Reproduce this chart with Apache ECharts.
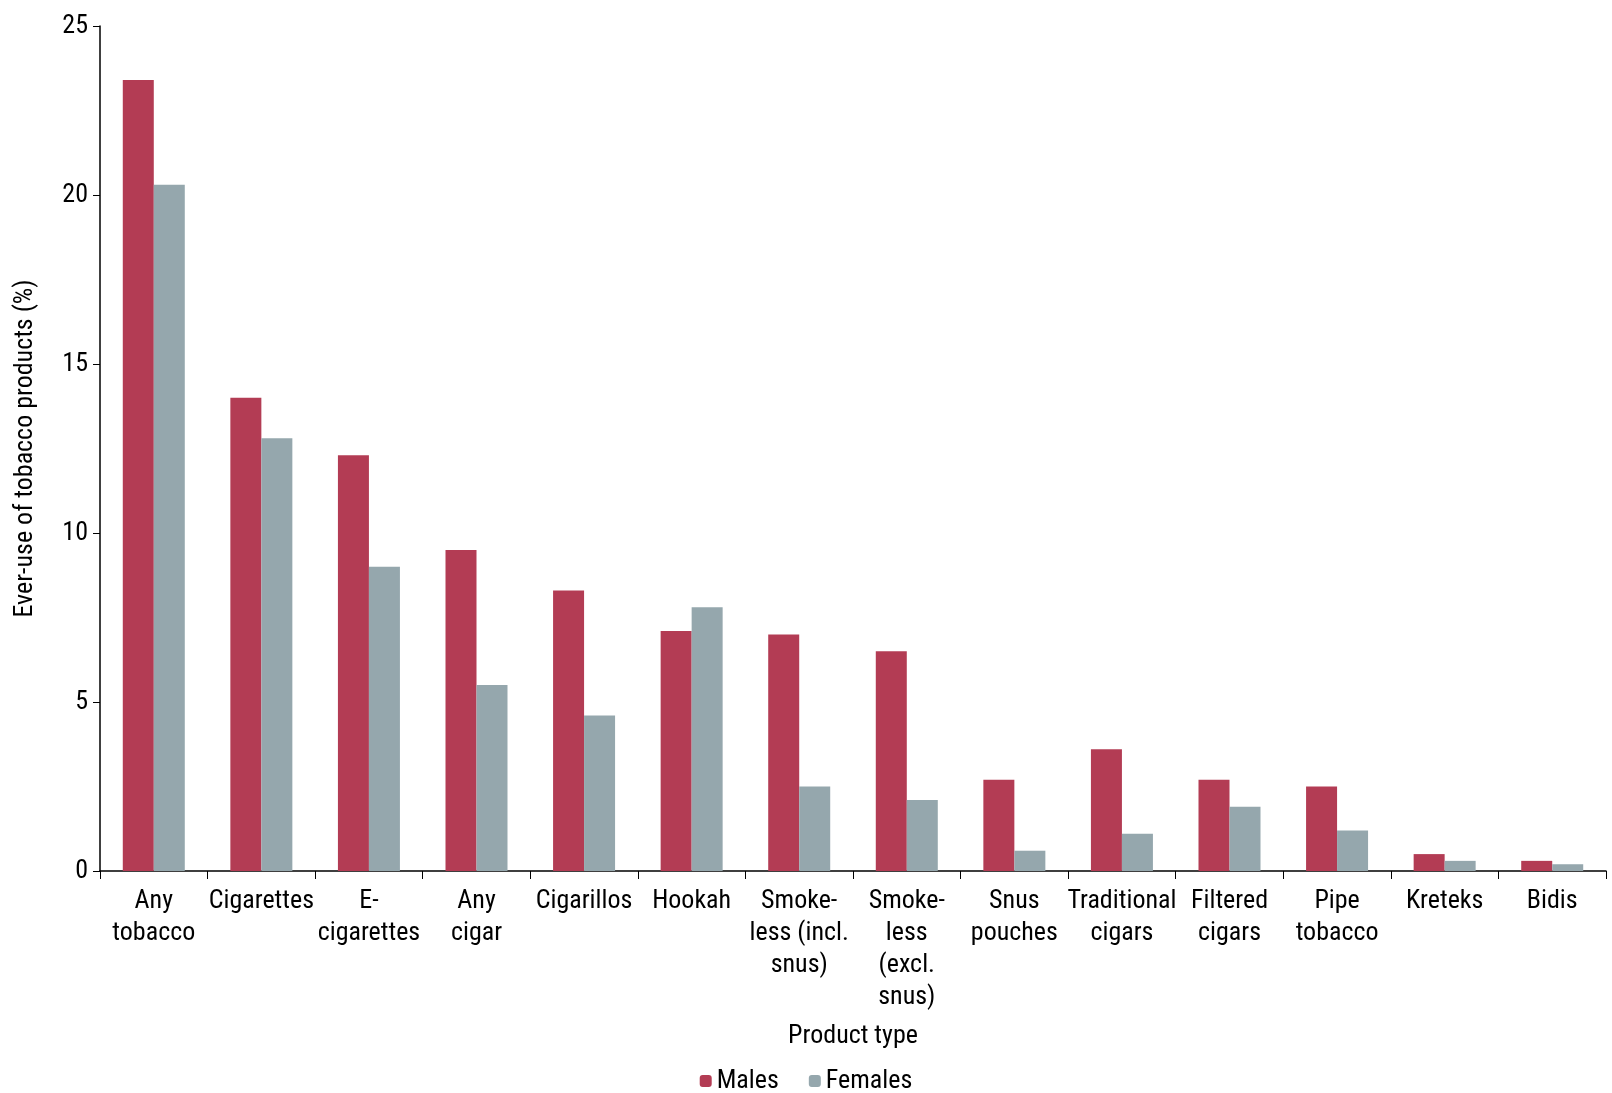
<!DOCTYPE html>
<html><head><meta charset="utf-8">
<script src="https://cdn.jsdelivr.net/npm/echarts@6/dist/echarts.min.js"></script>
<style>html,body{margin:0;padding:0;background:#fff}#c{width:1612px;height:1093px}</style>
</head><body><div id="c"></div>
<script>
const categories = ["Any\ntobacco","Cigarettes","E-\ncigarettes","Any\ncigar","Cigarillos","Hookah","Smoke-\nless (incl.\nsnus)","Smoke-\nless\n(excl.\nsnus)","Snus\npouches","Traditional\ncigars","Filtered\ncigars","Pipe\ntobacco","Kreteks","Bidis"];
const males = [23.4,14.0,12.3,9.5,8.3,7.1,7.0,6.5,2.7,3.6,2.7,2.5,0.5,0.3];
const females = [20.3,12.8,9.0,5.5,4.6,7.8,2.5,2.1,0.6,1.1,1.9,1.2,0.3,0.2];
const yTicks = [0,5,10,15,20,25];
const F = '"Liberation Sans Narrow","Roboto Condensed",Roboto,sans-serif';
const chart = echarts.init(document.getElementById('c'));
chart.setOption({
  animation:false,
  textStyle:{fontFamily:F,color:'#000'},
  grid:{left:100,right:6,top:26,bottom:222},
  legend:{bottom:-6,left:'center',itemWidth:12,itemHeight:12,itemGap:30,
    textStyle:{fontFamily:F,fontSize:26,color:'#000'},data:['Males','Females']},
  xAxis:{type:'category',data:categories,name:'Product type',nameLocation:'middle',nameGap:152,
    nameTextStyle:{fontFamily:F,fontSize:26,color:'#000'},
    axisLine:{lineStyle:{color:'#000',width:1.5}},
    axisTick:{show:true,length:8,lineStyle:{color:'#000'}},
    axisLabel:{interval:0,fontFamily:F,fontSize:26,color:'#000',lineHeight:32,margin:14}},
  yAxis:{type:'value',min:0,max:25,interval:5,name:'Ever-use of tobacco products (%)',
    nameLocation:'middle',nameGap:62,nameTextStyle:{fontFamily:F,fontSize:26,color:'#000'},
    splitLine:{show:false},
    axisLine:{show:true,lineStyle:{color:'#000',width:1.5}},
    axisTick:{show:true,length:7,lineStyle:{color:'#000'}},
    axisLabel:{fontFamily:F,fontSize:26,color:'#000',margin:12,
      formatter:v=>yTicks.includes(v)?String(v):''}},
  series:[
    {name:'Males',type:'bar',data:males,barWidth:31,barGap:'0%',itemStyle:{color:'#b33c54'}},
    {name:'Females',type:'bar',data:females,barWidth:31,barGap:'0%',itemStyle:{color:'#95a7ad'}}
  ]
});
</script></body></html>
